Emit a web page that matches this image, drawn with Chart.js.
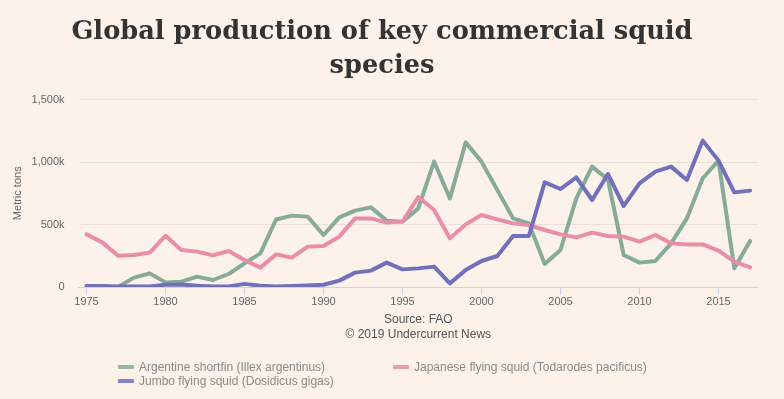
<!DOCTYPE html>
<html>
<head>
<meta charset="utf-8">
<script src="https://cdn.jsdelivr.net/npm/chart.js@4"></script>
<style>
  html, body { margin: 0; padding: 0; background: #fcf2ea; }
  #wrap { position: relative; width: 784px; height: 399px; background: #fcf2ea; }
  #legend { position: absolute; left: 0; top: 360px; width: 784px; font-family: "Liberation Sans", Arial, sans-serif; font-size: 12px; color: #8a8a8a; }
  .item { position: absolute; height: 14px; line-height: 14px; white-space: nowrap; }
  .sw { display: inline-block; width: 16px; height: 4px; border-radius: 1px; vertical-align: middle; margin-right: 5px; position: relative; top: -1px; opacity: 0.85; }
</style>
</head>
<body>
<div id="wrap">
  <canvas id="c" width="784" height="399"></canvas>
  <div id="legend"></div>
</div>
<script>
const years = [1975,1976,1977,1978,1979,1980,1981,1982,1983,1984,1985,1986,1987,1988,1989,1990,1991,1992,1993,1994,1995,1996,1997,1998,1999,2000,2001,2002,2003,2004,2005,2006,2007,2008,2009,2010,2011,2012,2013,2014,2015,2016,2017];
const argentine = [0,0,0,75,109,37,43,83,56,104,189,269,540,571,563,416,557,611,637,531,523,629,1003,709,1157,1003,776,549,509,184,296,709,963,860,256,195,208,349,549,870,1011,150,368];
const japanese = [421,357,250,256,275,410,296,283,253,288,216,155,261,235,323,328,403,549,549,515,523,720,616,389,501,576,541,509,495,456,421,397,435,408,403,363,416,349,341,341,291,203,157];
const jumbo = [8,8,5,5,5,18,20,10,5,5,25,10,5,8,12,18,51,115,131,195,141,149,163,29,136,208,248,408,408,837,784,877,696,904,648,829,923,963,856,1171,1011,757,771];
const yTicks = [0,500,1000,1500];
const seriesNames = ["Argentine shortfin (Illex argentinus)", "Japanese flying squid (Todarodes pacificus)", "Jumbo flying squid (Dosidicus gigas)"];
const seriesColors = ["#86ac99", "#e98ea6", "#7070bd"];
const titleLines = ["Global production of key commercial squid", "species"];
const sourceLines = ["Source: FAO", "\u00a9 2019 Undercurrent News"];

const sansFont = "'Liberation Sans', Arial, sans-serif";
const values = [argentine, japanese, jumbo];

const datasets = values.map((v, i) => ({
  label: seriesNames[i],
  data: v,
  borderColor: seriesColors[i],
  backgroundColor: seriesColors[i],
  borderWidth: 4,
  pointRadius: 0,
  pointHoverRadius: 0,
  tension: 0,
  fill: false,
  borderJoinStyle: 'round',
  borderCapStyle: 'round',
  order: 3 - i
}));

const chart = new Chart(document.getElementById('c'), {
  type: 'line',
  data: { labels: years.map(String), datasets },
  options: {
    responsive: false,
    animation: false,
    devicePixelRatio: 1,
    layout: { padding: { left: 6, right: 26, top: 0, bottom: 57 } },
    plugins: {
      legend: { display: false },
      tooltip: { enabled: false },
      title: {
        display: true,
        text: titleLines,
        color: '#333333',
        font: { family: "'DejaVu Serif', Georgia, serif", size: 25.7, weight: 'bold', lineHeight: '34px' },
        padding: { top: 15, bottom: 16.5 }
      },
      subtitle: {
        display: true,
        position: 'bottom',
        fullSize: false,
        weight: 100,
        text: sourceLines,
        color: '#555555',
        font: { family: sansFont, size: 12, lineHeight: '15px' },
        padding: { top: 0, bottom: 0 }
      }
    },
    scales: {
      x: {
        type: 'category',
        offset: true,
        grid: {
          display: true,
          drawOnChartArea: false,
          drawTicks: true,
          tickLength: 8,
          offset: false,
          color: (ctx) => (years[ctx.index] % 5 === 0 ? '#ccd6eb' : 'rgba(0,0,0,0)')
        },
        border: { display: true, color: '#ccd6eb', width: 1 },
        ticks: {
          autoSkip: false,
          maxRotation: 0,
          padding: 0,
          color: '#666666',
          font: { family: sansFont, size: 11 },
          callback: (val, idx) => (years[idx] % 5 === 0 ? String(years[idx]) : '')
        },
        afterFit: (s) => { s.height = 25; }
      },
      y: {
        min: 0,
        max: 1500,
        afterBuildTicks: (s) => { s.ticks = yTicks.map(v => ({ value: v })); },
        grid: { color: 'rgba(120,100,90,0.13)', drawTicks: false },
        border: { display: false },
        ticks: {
          padding: 14,
          color: '#666666',
          font: { family: sansFont, size: 11 },
          callback: (v) => (v === 0 ? '0' : v.toLocaleString('en-US') + 'k')
        },
        title: {
          display: true,
          text: 'Metric tons',
          color: '#666666',
          font: { family: sansFont, size: 11 },
          padding: { top: 5, bottom: 0 }
        },
        afterFit: (s) => { s.width = 72.6; }
      }
    }
  }
});

// HTML legend built from the chart's datasets, laid out as a two-column grid
const legendEl = document.getElementById('legend');
const colX = [118, 393];
chart.data.datasets.forEach((ds, i) => {
  const item = document.createElement('div');
  item.className = 'item';
  const col = i === 1 ? 1 : 0;
  const row = i === 2 ? 1 : 0;
  item.style.left = colX[col] + 'px';
  item.style.top = (row * 14) + 'px';
  const sw = document.createElement('span');
  sw.className = 'sw';
  sw.style.background = ds.borderColor;
  item.appendChild(sw);
  item.appendChild(document.createTextNode(ds.label));
  legendEl.appendChild(item);
});
</script>
</body>
</html>
